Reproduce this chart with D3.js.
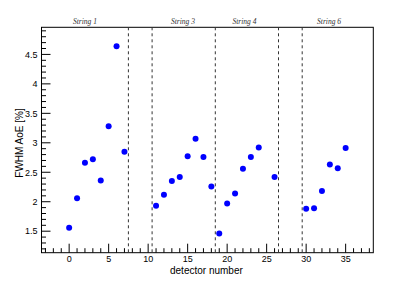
<!DOCTYPE html>
<html><head><meta charset="utf-8">
<script src="https://cdn.jsdelivr.net/npm/d3@7"></script>
<style>body{margin:0;background:#fff}svg{display:block}</style>
</head><body>
<script>
const detectors = [0,1,2,3,4,5,6,7,11,12,13,14,15,16,17,18,19,20,21,22,23,24,26,30,31,32,33,34,35];
const fwhm = [1.56,2.06,2.66,2.72,2.36,3.28,4.64,2.85,1.93,2.12,2.35,2.42,2.77,3.07,2.76,2.26,1.46,1.97,2.14,2.56,2.76,2.92,2.42,1.88,1.89,2.18,2.63,2.57,2.91];
const dividers = [7.5,10.5,18.5,26.5,29.5];
const stringNames = ["String 1","String 3","String 4","String 6"];
const stringPos = [2,14.4,22.2,32.9];
const xTicks = [0,5,10,15,20,25,30,35];
const yTicks = [1.5,2,2.5,3,3.5,4,4.5];

const W=415,H=281;
const m={l:41.5,r:373.3,t:27.3,b:252.7};
const svg=d3.select("body").append("svg").attr("width",W).attr("height",H);
const x=d3.scaleLinear().domain([-3.5,38.5]).range([m.l,m.r]);
const y=d3.scaleLinear().domain([1.135,4.96]).range([m.b,m.t]);
const font="Liberation Sans, Arial, sans-serif";

// frame
svg.append("rect").attr("x",m.l).attr("y",m.t).attr("width",m.r-m.l).attr("height",m.b-m.t)
  .attr("fill","none").attr("stroke","#000").attr("stroke-width",1);

// x ticks (inside, upward)
const xMinor=d3.range(-3,39,1);
svg.append("g").selectAll("line").data(xMinor).join("line")
  .attr("x1",d=>x(d)).attr("x2",d=>x(d)).attr("y1",m.b)
  .attr("y2",d=>m.b-(d%5===0?9:4.5)).attr("stroke","#000").attr("stroke-width",1);
svg.append("g").selectAll("text").data(xTicks).join("text")
  .attr("x",d=>x(d)).attr("y",m.b+8.8).attr("text-anchor","middle")
  .attr("font-family",font).attr("font-size",9).attr("fill","#000").text(d=>d);

// y ticks (inside, rightward)
const yMinor=d3.range(12,50,1).map(v=>v/10);
svg.append("g").selectAll("line").data(yMinor).join("line")
  .attr("x1",m.l).attr("x2",d=>m.l+(Math.round(d*10)%5===0?9:4.5))
  .attr("y1",d=>y(d)).attr("y2",d=>y(d)).attr("stroke","#000").attr("stroke-width",1);
svg.append("g").selectAll("text").data(yTicks).join("text")
  .attr("x",m.l-4).attr("y",d=>y(d)+3.3).attr("text-anchor","end")
  .attr("font-family",font).attr("font-size",9).attr("fill","#000").text(d=>d);

// dividers
svg.append("g").selectAll("line").data(dividers).join("line")
  .attr("x1",d=>x(d)).attr("x2",d=>x(d)).attr("y1",m.t).attr("y2",m.b)
  .attr("stroke","#333").attr("stroke-width",1).attr("stroke-dasharray","3,3");

// string labels
svg.append("g").selectAll("text").data(stringNames).join("text")
  .attr("x",(d,i)=>x(stringPos[i])).attr("y",m.t-3.5).attr("text-anchor","middle")
  .attr("font-family","Liberation Serif, Times New Roman, serif").attr("font-style","italic")
  .attr("font-size",7.5).attr("fill","#333").text(d=>d);

// points
svg.append("g").selectAll("circle").data(detectors).join("circle")
  .attr("cx",d=>x(d)).attr("cy",(d,i)=>y(fwhm[i])).attr("r",3).attr("fill","#0000ff");

// axis titles
svg.append("text").attr("x",(m.l+m.r)/2-1).attr("y",273.5).attr("text-anchor","middle")
  .attr("font-family",font).attr("font-size",10).text("detector number");
svg.append("text").attr("transform",`translate(23,143) rotate(-90)`).attr("text-anchor","middle")
  .attr("font-family",font).attr("font-size",10).text("FWHM AoE [%]");
</script>
</body></html>
